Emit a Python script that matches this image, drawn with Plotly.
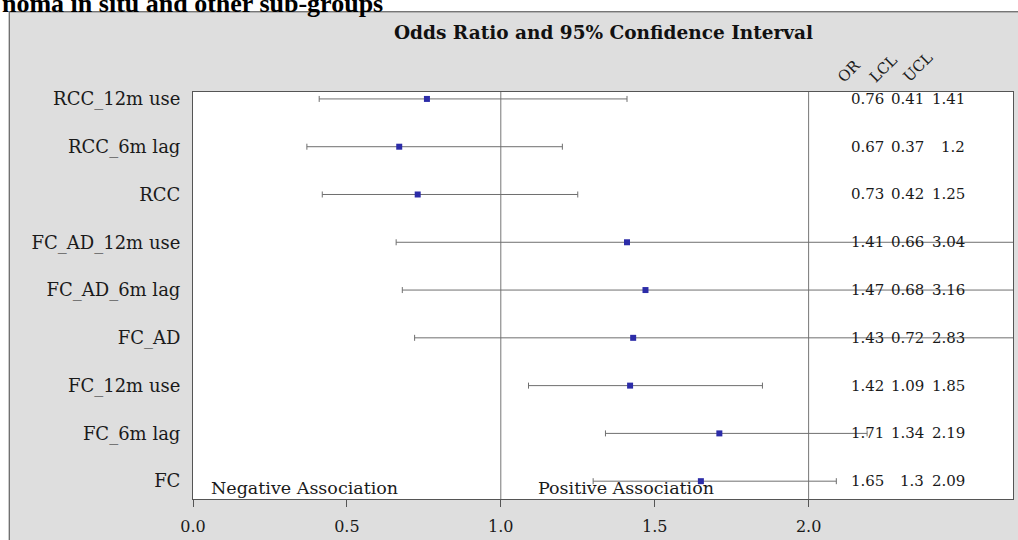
import plotly.graph_objects as go

# ---- data ----
labels = ["RCC_12m use", "RCC_6m lag", "RCC", "FC_AD_12m use", "FC_AD_6m lag",
          "FC_AD", "FC_12m use", "FC_6m lag", "FC"]
odds_ratio = [0.76, 0.67, 0.73, 1.41, 1.47, 1.43, 1.42, 1.71, 1.65]
lcl = [0.41, 0.37, 0.42, 0.66, 0.68, 0.72, 1.09, 1.34, 1.3]
ucl = [1.41, 1.2, 1.25, 3.04, 3.16, 2.83, 1.85, 2.19, 2.09]
x_ticks = [0.0, 0.5, 1.0, 1.5, 2.0]
x_tick_labels = ["0.0", "0.5", "1.0", "1.5", "2.0"]
column_headers = ["OR", "LCL", "UCL"]
reference_lines = [1.0, 2.0]
chart_title = "Odds Ratio and 95% Confidence Interval"
page_heading = "noma in situ and other sub-groups"
neg_label = "Negative Association"
pos_label = "Positive Association"

# ---- layout geometry ----
W, H = 1018, 540
ML, MR, MT, MB = 193, 4, 92, 37
PW, PH = W - ML - MR, H - MT - MB
XMAX = 2.664
YMIN, YMAX = 0.627, 9.145


def px(x):
    return (x - ML) / PW


def py(y):
    return (H - MB - y) / PH


n = len(labels)
ypos = [n - i for i in range(n)]

SERIF = "DejaVu Serif"
DARK = "#1a1a1a"

fig = go.Figure()
fig.add_trace(go.Scatter(
    x=odds_ratio, y=ypos, mode="markers",
    marker=dict(symbol="square", size=6, color="#2c2ca8"),
    error_x=dict(type="data", symmetric=False,
                 array=[u - o for u, o in zip(ucl, odds_ratio)],
                 arrayminus=[o - l for o, l in zip(odds_ratio, lcl)],
                 color="#6f6f6f", thickness=1, width=3),
    hoverinfo="skip", showlegend=False,
))

shapes = []
# white strips outside gray frame
shapes.append(dict(type="rect", xref="paper", yref="paper", layer="below",
                   x0=px(-5), x1=px(W + 5), y0=py(11), y1=py(-5),
                   fillcolor="white", line=dict(width=0)))
shapes.append(dict(type="rect", xref="paper", yref="paper", layer="below",
                   x0=px(-5), x1=px(9), y0=py(H + 5), y1=py(-5),
                   fillcolor="white", line=dict(width=0)))
shapes.append(dict(type="line", xref="paper", yref="paper", layer="below",
                   x0=px(9), x1=px(W + 5), y0=py(11), y1=py(11),
                   line=dict(color="#444", width=1)))
shapes.append(dict(type="line", xref="paper", yref="paper", layer="below",
                   x0=px(9), x1=px(9), y0=py(11), y1=py(H + 5),
                   line=dict(color="#444", width=1)))
for rv in reference_lines:
    shapes.append(dict(type="line", xref="x", yref="paper", layer="below",
                       x0=rv, x1=rv, y0=0, y1=1,
                       line=dict(color="#777", width=1)))

annotations = []
# values columns
col_x = [2.251, 2.381, 2.515]
for i in range(n):
    for cx, val in zip(col_x, (odds_ratio[i], lcl[i], ucl[i])):
        annotations.append(dict(x=cx, y=ypos[i], xref="x", yref="y",
                                text=f"{val:g}", showarrow=False,
                                xanchor="right", yanchor="middle",
                                font=dict(family=SERIF, size=15, color=DARK)))
# column headers
hdr_px = [(850, 71), (884, 69), (919, 67)]
for (hx, hy), t in zip(hdr_px, column_headers):
    annotations.append(dict(x=px(hx), y=py(hy), xref="paper", yref="paper",
                            text=t, showarrow=False, textangle=-45,
                            xanchor="center", yanchor="middle",
                            font=dict(family=SERIF, size=15, color=DARK)))
# association labels
annotations.append(dict(x=px(305), y=py(492), xref="paper", yref="paper",
                        text=neg_label, showarrow=False,
                        xanchor="center", yanchor="middle",
                        font=dict(family=SERIF, size=17.5, color=DARK)))
annotations.append(dict(x=px(627), y=py(492), xref="paper", yref="paper",
                        text=pos_label, showarrow=False,
                        xanchor="center", yanchor="middle",
                        font=dict(family=SERIF, size=17.5, color=DARK)))
# chart title
annotations.append(dict(x=px(604), y=py(32), xref="paper", yref="paper",
                        text=f"<b>{chart_title}</b>", showarrow=False,
                        xanchor="center", yanchor="middle",
                        font=dict(family=SERIF, size=18.5, color="#111")))
# page heading (cut at top, as in the reference)
annotations.append(dict(x=px(0), y=py(3), xref="paper", yref="paper",
                        text=f"<b>{page_heading}</b>", showarrow=False,
                        xanchor="left", yanchor="middle",
                        font=dict(family="Liberation Serif", size=26, color="#000")))

fig.update_layout(
    width=W, height=H, autosize=False,
    margin=dict(l=ML, r=MR, t=MT, b=MB, pad=0),
    paper_bgcolor="#dedede", plot_bgcolor="white",
    shapes=shapes, annotations=annotations,
    xaxis=dict(range=[0, XMAX], tickvals=x_ticks, ticktext=x_tick_labels,
               ticks="outside", ticklen=7, tickcolor="#555", tickwidth=1,
               showline=True, linecolor="#555", linewidth=1, mirror=True,
               showgrid=False, zeroline=False, ticklabelstandoff=6,
               tickfont=dict(family=SERIF, size=16, color=DARK)),
    yaxis=dict(range=[YMIN, YMAX], tickvals=ypos, ticktext=labels,
               ticks="", showline=True, linecolor="#555", linewidth=1,
               mirror=True, showgrid=False, zeroline=False,
               ticklabelstandoff=8,
               tickfont=dict(family=SERIF, size=18, color=DARK)),
)

fig.write_html("out.html")
